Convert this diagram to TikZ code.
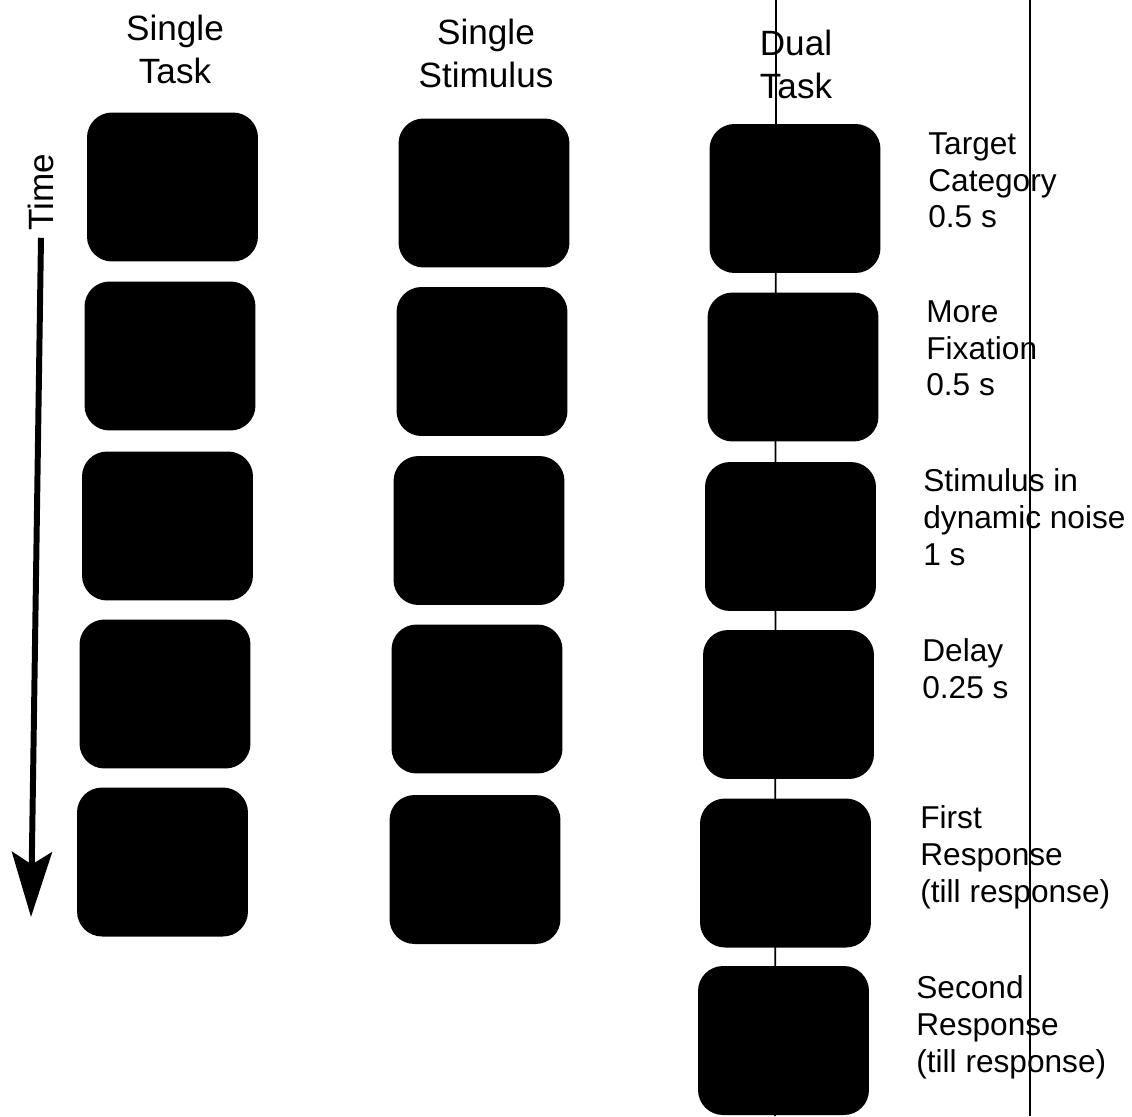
\documentclass[tikz,border=0pt]{standalone}
\usepackage{fontspec}
\setmainfont{Liberation Sans}
\usetikzlibrary{arrows.meta}

\begin{document}
\begin{tikzpicture}[x=0.02cm, y=-0.02cm,
		screen/.style={fill=black, rounded corners=0.5cm, minimum width=3.42cm, minimum height=2.98cm, inner sep=0pt},
		header/.style={font=\fontsize{20}{24.5}\selectfont, align=center, anchor=north, inner sep=0pt},
		phase/.style={font=\fontsize{18}{21}\selectfont, align=left, anchor=north west, inner sep=0pt},
		scanline/.style={line width=1pt}]
		\useasboundingbox (0,0) rectangle (1132,1116);
		%Column headers
		\node [header] (hst) at (175,15) {Single\\Task};
		\node [header] (hss) at (486,19) {Single\\Stimulus};
		\node [header] (hdt) at (796,30) {Dual\\Task};
		%Single task column
		\foreach \n/\x/\y in {1/172.5/187, 2/170/356, 3/167.5/526, 4/165/694, 5/162.5/862} {
			\node [screen] (st\n) at (\x,\y) {};
		}
		%Single stimulus column
		\foreach \n/\x/\y in {1/484/193, 2/482/361.5, 3/479/530.5, 4/477/699, 5/475/869.5} {
			\node [screen] (ss\n) at (\x,\y) {};
		}
		%Dual task column
		\foreach \n/\x/\y in {1/795/198.5, 2/793/367, 3/790.5/536.5, 4/788.5/704.5, 5/785.5/873, 6/783.5/1040.5} {
			\node [screen] (dt\n) at (\x,\y) {};
		}
		%Time axis
		\node [font=\fontsize{20}{24}\selectfont, rotate=90, inner xsep=4pt, inner ysep=0pt] (time) at (41,192) {Time};
		\coordinate (tend) at (31,917);
		\draw [line width=3.4pt, -{Stealth[length=1.3cm, width=0.8cm, inset=0.25cm]}] (time.west) -- (tend);
		%Phase labels of the dual task
		\node [phase] (ph1) at (928,132) {Target\\Category\\0.5 s};
		\node [phase] (ph2) at (926,300) {More\\Fixation\\0.5 s};
		\node [phase] (ph3) at (923,468) {Stimulus in\\dynamic noise\\1 s};
		\node [phase] (ph4) at (922,638) {Delay\\0.25 s};
		\node [phase] (ph5) at (920,805) {First\\Response\\(till response)};
		\node [phase] (ph6) at (916,975) {Second\\Response\\(till response)};
		%Vertical lines across the page
		\draw [scanline] (776,0) -- (775,1116);
		\draw [scanline] (1030,0) -- (1030,1116);
\end{tikzpicture}
\end{document}
